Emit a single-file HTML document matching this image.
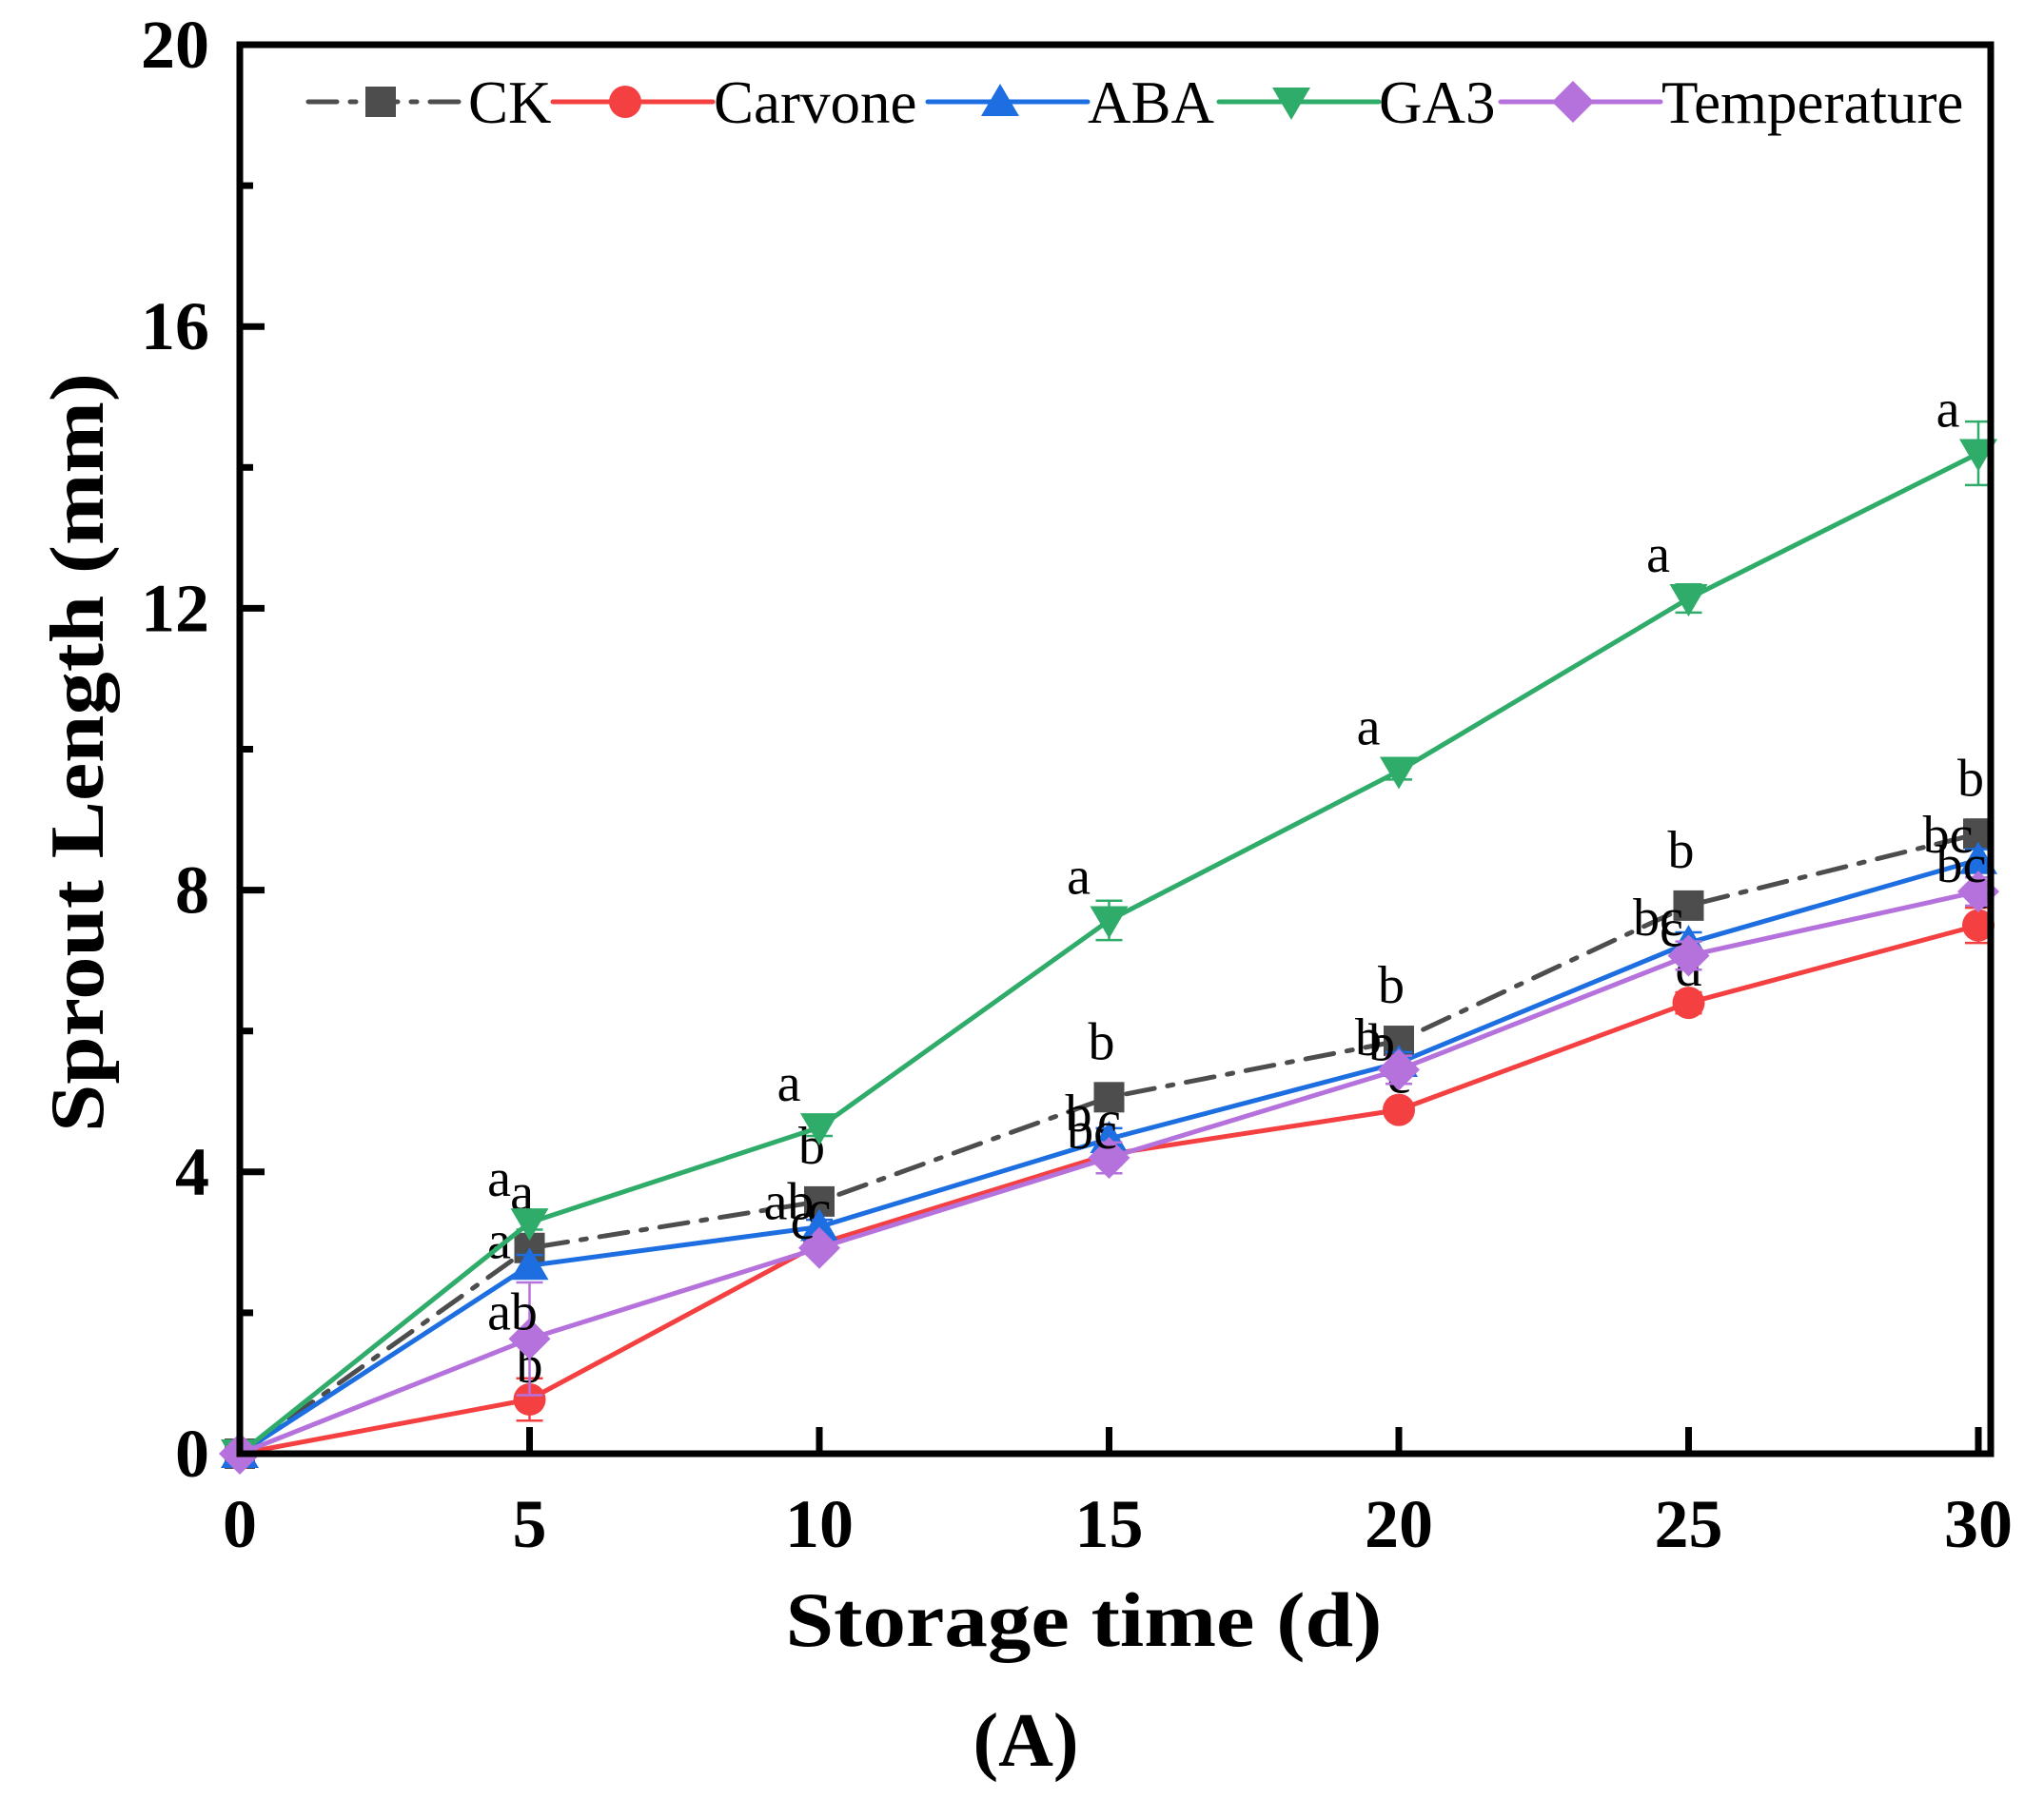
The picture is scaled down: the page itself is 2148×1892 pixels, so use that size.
<!DOCTYPE html>
<html><head><meta charset="utf-8"><style>
html,body{margin:0;padding:0;background:#fff;}
svg{display:block;font-family:"Liberation Serif",serif;}
</style></head><body>
<svg id="chart" width="2148" height="1892" viewBox="0 0 2148 1892">
<g id="plot"></g>
<text x="108" y="791" font-size="80" font-weight="bold" text-anchor="middle" transform="rotate(-90 108 791)" textLength="798" lengthAdjust="spacingAndGlyphs">Sprout Length (mm)</text>
<text x="1139" y="1730" font-size="82" font-weight="bold" text-anchor="middle" textLength="627" lengthAdjust="spacingAndGlyphs">Storage time (d)</text>
<text x="1078" y="1856" font-size="80" font-weight="bold" text-anchor="middle">(A)</text>
</svg>
<script>
const days = [0, 5, 10, 15, 20, 25, 30];
const ckVals = [0, 2.92, 3.58, 5.06, 5.86, 7.78, 8.8];
const carvoneVals = [0, 0.77, 2.98, 4.25, 4.88, 6.4, 7.5];
const abaVals = [0, 2.67, 3.22, 4.47, 5.55, 7.25, 8.43];
const ga3Vals = [0, 3.28, 4.63, 7.57, 9.69, 12.14, 14.2];
const tempVals = [0, 1.63, 2.92, 4.2, 5.45, 7.07, 7.98];
const ckErr = [0, 0.1, 0.1, 0.1, 0.15, 0.15, 0.2];
const carvoneErr = [0, 0.3, 0.1, 0.15, 0.1, 0.15, 0.25];
const abaErr = [0, 0.15, 0.1, 0.15, 0.15, 0.15, 0.15];
const ga3Err = [0, 0.1, 0.12, 0.28, 0.12, 0.2, 0.45];
const tempErr = [0, 0.8, 0.1, 0.22, 0.2, 0.2, 0.2];
const ckLetters = ["", "a", "b", "b", "b", "b", "b"];
const carvoneLetters = ["", "b", "c", "c", "c", "d", "c"];
const abaLetters = ["", "a", "ab", "b", "b", "bc", "bc"];
const ga3Letters = ["", "a", "a", "a", "a", "a", "a"];
const tempLetters = ["", "ab", "c", "bc", "b", "c", "bc"];
const xTicks = [0, 5, 10, 15, 20, 25, 30];
const yTicks = [0, 4, 8, 12, 16, 20];
const yMinorTicks = [2, 6, 10, 14, 18];

const NS = "http://www.w3.org/2000/svg";
const X0 = 252, X1 = 2079, Y0 = 1528, Y1 = 47;
function xs(v){ return X0 + (X1 - X0) * v / 30; }
function ys(v){ return Y0 - (Y0 - Y1) * v / 20; }
const svg = document.getElementById('chart');
const plot = document.getElementById('plot');
function mk(tag, attrs, parent){
  const e = document.createElementNS(NS, tag);
  for (const k in attrs) e.setAttribute(k, attrs[k]);
  (parent || svg).appendChild(e);
  return e;
}
function marker(shape, cx, cy, color, parent){
  let e;
  if (shape === 'square') e = mk('rect', {x: cx-16, y: cy-16, width: 32, height: 32, fill: color}, parent);
  else if (shape === 'circle') e = mk('circle', {cx: cx, cy: cy, r: 17, fill: color}, parent);
  else if (shape === 'up') e = mk('polygon', {points: `${cx},${cy-19} ${cx-20},${cy+15} ${cx+20},${cy+15}`, fill: color}, parent);
  else if (shape === 'down') e = mk('polygon', {points: `${cx},${cy+19} ${cx-20},${cy-15} ${cx+20},${cy-15}`, fill: color}, parent);
  else e = mk('polygon', {points: `${cx},${cy-22} ${cx+22},${cy} ${cx},${cy+22} ${cx-22},${cy}`, fill: color}, parent);
  return e;
}
const series = [
  {name: 'ck', label: 'CK', vals: ckVals, err: ckErr, letters: ckLetters, color: '#4d4d4d', shape: 'square', dash: '30 14 6 14', lx: 324, tx: 492, ldx: -8, ldy: -40},
  {name: 'carvone', label: 'Carvone', vals: carvoneVals, err: carvoneErr, letters: carvoneLetters, color: '#f44040', shape: 'circle', dash: '', lx: 581, tx: 750, ldx: 0, ldy: -18},
  {name: 'aba', label: 'ABA', vals: abaVals, err: abaErr, letters: abaLetters, color: '#1d6ee0', shape: 'up', dash: '', lx: 975, tx: 1143, ldx: -32, ldy: -8},
  {name: 'ga3', label: 'GA3', vals: ga3Vals, err: ga3Err, letters: ga3Letters, color: '#2fac6a', shape: 'down', dash: '', lx: 1281, tx: 1449, ldx: -32, ldy: -28},
  {name: 'temperature', label: 'Temperature', vals: tempVals, err: tempErr, letters: tempLetters, color: '#b572dc', shape: 'diamond', dash: '', lx: 1577, tx: 1746, ldx: -18, ldy: -10}
];
const frame = mk('rect', {x: X0, y: Y1, width: X1 + 13 - X0, height: Y0 - Y1, fill: 'none', stroke: '#000', 'stroke-width': 7});


series.forEach(s => {
  const g = mk('g', {}, plot);
  
  
  const pts = days.map((d, i) => xs(d) + ',' + ys(s.vals[i])).join(' ');
  const line = mk('polyline', {points: pts, fill: 'none', stroke: s.color, 'stroke-width': 5, 'stroke-dasharray': s.dash, 'stroke-linecap': 'round'}, g);
  
  
  days.forEach((d, i) => {
    const cx = xs(d), cy = ys(s.vals[i]);
    if (s.err[i] > 0) {
      const eb = mk('path', {d: `M${cx},${ys(s.vals[i]+s.err[i])}V${ys(s.vals[i]-s.err[i])}M${cx-14},${ys(s.vals[i]+s.err[i])}h28M${cx-14},${ys(s.vals[i]-s.err[i])}h28`, stroke: s.color, 'stroke-width': 2.5, fill: 'none'}, g);
      
      
    }
    const m = marker(s.shape, cx, cy, s.color, g);
    
    
    if (s.letters[i]) {
      const t = mk('text', {x: cx + s.ldx, y: cy + s.ldy, 'font-size': 56, 'text-anchor': 'middle', fill: '#000'}, g);
      t.textContent = s.letters[i];
      
      
    }
  });
});
xTicks.forEach(v => {
  const t = mk('line', {x1: xs(v), x2: xs(v), y1: Y0, y2: Y0 - 28, stroke: '#000', 'stroke-width': 7});
  
  
  const l = mk('text', {x: xs(v), y: 1626, 'font-size': 72, 'font-weight': 'bold', 'text-anchor': 'middle'});
  l.textContent = v;
  
  
});
yTicks.forEach(v => {
  const t = mk('line', {x1: X0, x2: X0 + 26, y1: ys(v), y2: ys(v), stroke: '#000', 'stroke-width': 7});
  
  
  const l = mk('text', {x: 220, y: ys(v) + 24, 'font-size': 72, 'font-weight': 'bold', 'text-anchor': 'end'});
  l.textContent = v;
  
  
});
yMinorTicks.forEach(v => {
  const t = mk('line', {x1: X0, x2: X0 + 14, y1: ys(v), y2: ys(v), stroke: '#000', 'stroke-width': 7});
  
  
});
series.forEach(s => {
  const g = mk('g', {});
  
  
  const ly = 107;
  mk('line', {x1: s.lx, x2: s.lx + 168, y1: ly, y2: ly, stroke: s.color, 'stroke-width': 5, 'stroke-dasharray': s.dash, 'stroke-linecap': 'round'}, g);
  marker(s.shape, s.lx + 76, ly, s.color, g);
  const t = mk('text', {x: s.tx, y: ly + 22, 'font-size': 63}, g);
  t.textContent = s.label;
});
</script>
</body></html>
